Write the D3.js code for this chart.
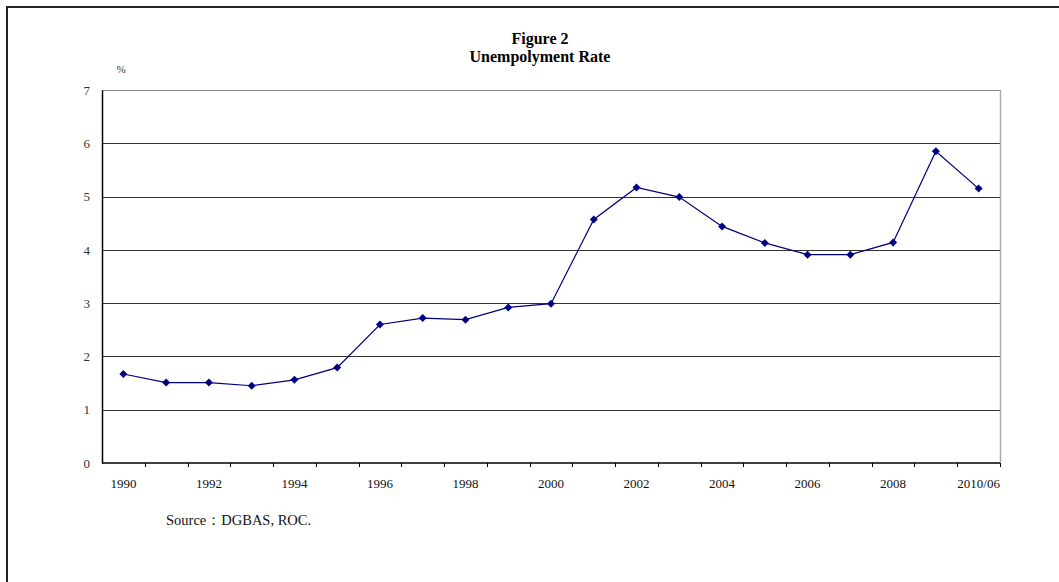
<!DOCTYPE html>
<html>
<head>
<meta charset="utf-8">
<script src="https://cdn.jsdelivr.net/npm/d3@7"></script>
<style>
  html, body { margin: 0; padding: 0; background: #fff; }
  svg { display: block; }
  svg text { font-family: "Liberation Serif", "DejaVu Serif", serif !important; }
</style>
</head>
<body>
<svg id="chart" width="1059" height="582"></svg>
<script>
// Unemployment rate (%), Taiwan
const years = ["1990","1991","1992","1993","1994","1995","1996","1997","1998","1999",
               "2000","2001","2002","2003","2004","2005","2006","2007","2008","2009","2010/06"];
const rates = [1.67,1.51,1.51,1.45,1.56,1.79,2.60,2.72,2.69,2.92,
               2.99,4.57,5.17,4.99,4.44,4.13,3.91,3.91,4.14,5.85,5.15];
const yTicks = [0,1,2,3,4,5,6,7];
const xLabels = ["1990","1992","1994","1996","1998","2000","2002","2004","2006","2008","2010/06"];

const svg = d3.select("#chart");

// outer frame
svg.append("path")
  .attr("d", "M7,582 L7,7 L1059,7")
  .attr("fill", "none").attr("stroke", "#222").attr("stroke-width", 2);

const plot = { left: 102, right: 1000, top: 90, bottom: 463 };

const x = d3.scaleBand().domain(years).range([plot.left, plot.right]).padding(0);
const y = d3.scaleLinear().domain([0, 7]).range([plot.bottom, plot.top]);

// horizontal gridlines
svg.append("g").selectAll("line")
  .data(yTicks.filter(d => d > 0))
  .join("line")
  .attr("x1", plot.left).attr("x2", plot.right)
  .attr("y1", d => Math.round(y(d)) + 0.5).attr("y2", d => Math.round(y(d)) + 0.5)
  .attr("stroke", d => d === 7 ? "#888" : "#333").attr("stroke-width", 1.2);

// right plot border
svg.append("line")
  .attr("x1", plot.right + 0.5).attr("x2", plot.right + 0.5)
  .attr("y1", plot.top).attr("y2", plot.bottom)
  .attr("stroke", "#aaa").attr("stroke-width", 1.5);

// y axis
const yAxis = svg.append("g")
  .attr("transform", `translate(${plot.left},0)`)
  .call(d3.axisLeft(y).tickValues(yTicks).tickSize(0).tickPadding(12).tickFormat(d3.format("d")));
yAxis.attr("font-family", null);
yAxis.select(".domain").attr("stroke", "#000").attr("stroke-width", 1.5);
yAxis.selectAll("text").attr("font-size", 13).attr("fill", "#333");

// x axis: ticks at category boundaries
const xAxis = svg.append("g")
  .attr("transform", `translate(0,${plot.bottom})`);
xAxis.append("line")
  .attr("x1", plot.left).attr("x2", plot.right)
  .attr("stroke", "#000").attr("stroke-width", 1.5);
xAxis.selectAll(".tick-mark")
  .data(years)
  .join("line")
  .attr("class", "tick-mark")
  .attr("x1", d => Math.round(x(d) + x.bandwidth()) + 0.5)
  .attr("x2", d => Math.round(x(d) + x.bandwidth()) + 0.5)
  .attr("y1", 0).attr("y2", 4)
  .attr("stroke", "#000").attr("stroke-width", 1);
xAxis.selectAll(".tick-label")
  .data(xLabels)
  .join("text")
  .attr("class", "tick-label")
  .attr("x", d => x(d) + x.bandwidth() / 2)
  .attr("y", 25)
  .attr("text-anchor", "middle")
  .attr("font-size", 13)
  .attr("fill", "#111")
  .text(d => d);

// data line
const line = d3.line()
  .x((d, i) => x(years[i]) + x.bandwidth() / 2)
  .y(d => y(d));
svg.append("path")
  .datum(rates)
  .attr("d", line)
  .attr("fill", "none")
  .attr("stroke", "#000080")
  .attr("stroke-width", 1.2);

// diamond markers
svg.append("g").selectAll("path")
  .data(rates)
  .join("path")
  .attr("transform", (d, i) => `translate(${x(years[i]) + x.bandwidth() / 2},${y(d)})`)
  .attr("d", "M0,-4 L4,0 L0,4 L-4,0 Z")
  .attr("fill", "#000080");

// titles
svg.append("text")
  .attr("x", 540).attr("y", 44)
  .attr("text-anchor", "middle")
  .attr("font-size", 16).attr("font-weight", "bold")
  .text("Figure 2");
svg.append("text")
  .attr("x", 540).attr("y", 62)
  .attr("text-anchor", "middle")
  .attr("font-size", 16).attr("font-weight", "bold")
  .text("Unempolyment Rate");

// unit label
svg.append("text")
  .attr("x", 121).attr("y", 73)
  .attr("text-anchor", "middle")
  .attr("font-size", 11).attr("fill", "#333")
  .text("%");

// source note
svg.append("text")
  .attr("x", 166).attr("y", 525)
  .attr("font-size", 14.5).attr("fill", "#111")
  .text("Source：DGBAS, ROC.");
</script>
</body>
</html>
